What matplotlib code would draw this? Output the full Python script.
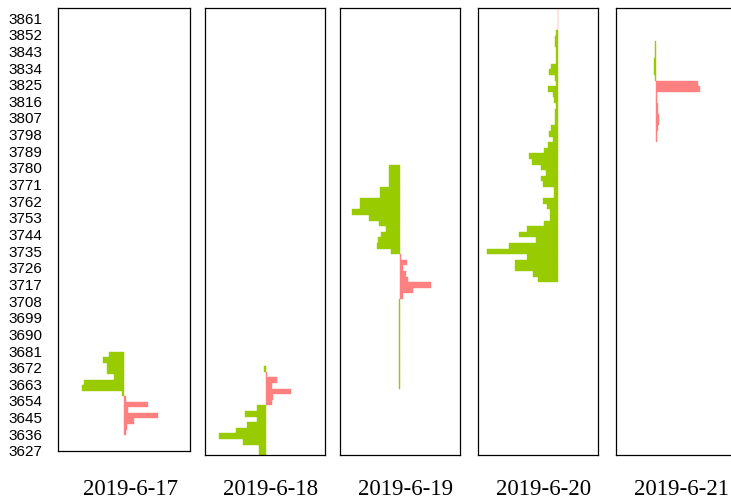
import matplotlib
matplotlib.use("Agg")
import matplotlib.pyplot as plt

# price levels (lower edge of each 3-point bin) and net volume per level
# negative -> green bar to the left, positive -> pink bar to the right
days = ["2019-6-17", "2019-6-18", "2019-6-19", "2019-6-20", "2019-6-21"]

price_17 = [3677, 3674, 3671, 3668, 3665, 3662, 3659, 3656, 3653, 3650,
            3647, 3644, 3641, 3638, 3635]
vol_17 = [-15, -21, -17, -17, -10, -40, -42, -2, 2.5, 24,
          4, 34, 10, 3, 2.5]

price_18 = [3671, 3668, 3665, 3662, 3659, 3656, 3653, 3650, 3647, 3644,
            3641, 3638, 3635, 3632, 3629, 3626]
vol_18 = [-1.7, 1, 11, 6, 25, 7.5, 6, -8.3, -20.7, -8.3,
          -18.3, -29.3, -46.7, -22.3, -6.7, -6.7]

price_19 = [3779, 3776, 3773, 3770, 3767, 3764, 3761, 3758, 3755, 3752,
            3749, 3746, 3743, 3740, 3737, 3734,
            3731, 3728, 3725, 3722, 3719, 3716, 3713, 3710,
            3707, 3704, 3701, 3698, 3695, 3692, 3689, 3686, 3683, 3680,
            3677, 3674, 3671, 3668, 3665, 3662]
vol_19 = [-10.7, -10.7, -10.7, -10.7, -20, -20, -40, -40, -48, -31,
          -21, -14, -19, -22, -23, -9,
          1, 6.7, 3.3, 5.7, 7.7, 30.7, 13.3, 3.3,
          -0.8, -0.8, -0.8, -0.8, -0.8, -0.8, -0.8, -0.8, -0.8, -0.8,
          -0.8, -0.8, -0.8, -0.8, -0.8, -0.8]

price_20 = [3863, 3860, 3857, 3854,
            3851, 3848, 3845, 3842, 3839, 3836, 3833, 3830, 3827, 3824,
            3821, 3818, 3815, 3812, 3809, 3806, 3803, 3800, 3797, 3794,
            3791, 3788, 3785, 3782, 3779, 3776, 3773, 3770, 3767, 3764,
            3761, 3758, 3755, 3752, 3749, 3746, 3743, 3740, 3737, 3734,
            3731, 3728, 3725, 3722, 3719]
vol_20 = [0.7, 0.7, 0.7, 0.7,
          -1.7, -2.7, -2.7, -1.7, -1.7, -1.7, -6.7, -8.7, -2.7, -1.7,
          -9.7, -4.7, -3.7, -1.7, -2.7, -2.7, -2.7, -6.7, -8.7, -4.7,
          -9.7, -13.7, -28.7, -25.7, -16.7, -11.7, -16.7, -14.7, -3.7, -3.7,
          -14.7, -10.7, -7.7, -7.7, -13.7, -30.7, -38.7, -21.7, -48.7, -70.7,
          -30.7, -42.7, -42.7, -24.7, -19.7]

price_21 = [3845, 3842, 3839, 3836, 3833, 3830, 3827, 3824, 3821, 3818,
            3815, 3812, 3809, 3806, 3803, 3800, 3797, 3794]
vol_21 = [-0.7, -0.7, -0.7, -2, -2, -2, -0.7, 42.5, 44.5, 1,
          1, 2, 2.7, 3.7, 3.7, 2.7, 1, 1]

price_ticks = [3627, 3636, 3645, 3654, 3663, 3672, 3681, 3690, 3699, 3708,
               3717, 3726, 3735, 3744, 3753, 3762, 3771, 3780, 3789, 3798,
               3807, 3816, 3825, 3834, 3843, 3852, 3861]

GREEN = "#99cc00"
PINK = "#ff8080"

W, H = 731, 502
fig = plt.figure(figsize=(W / 100, H / 100), dpi=100)

# panel frames in pixels: left, top, right, bottom, and x-limits
panels = [
    (58, 9, 190, 452, (-65.5, 66.5)),
    (205, 9, 325, 456, (-60.5, 59.5)),
    (340, 9, 460, 456, (-60, 60)),
    (477.7, 9, 597.7, 456, (-80, 40)),
    (615.5, 9, 735.5, 456, (-40, 80)),
]
prices = [price_17, price_18, price_19, price_20, price_21]
vols = [vol_17, vol_18, vol_19, vol_20, vol_21]

for i, (l, t, r, b, xl) in enumerate(panels):
    ax = fig.add_axes([l / W, (H - b) / H, (r - l) / W, (b - t) / H])
    cols = [GREEN if v < 0 else PINK for v in vols[i]]
    ax.barh(prices[i], vols[i], height=3, align="edge", color=cols,
            edgecolor=cols, linewidth=0.3)
    ax.set_xlim(*xl)
    ax.set_ylim(3626.4, 3865.9)
    ax.set_xticks([])
    for s in ax.spines.values():
        s.set_color("black")
        s.set_linewidth(0.9)
    if i == 0:
        ax.set_yticks(price_ticks)
        ax.set_yticklabels([str(p) for p in price_ticks],
                           fontfamily="Liberation Sans", fontsize=11)
        ax.tick_params(axis="y", length=0, pad=11.5)
    else:
        ax.set_yticks([])
    fig.text(((l + r) / 2 + 6) / W, 1 - 490 / H, days[i],
             ha="center", va="center", fontfamily="Liberation Serif",
             fontsize=16.5)

fig.savefig("out.png", dpi=100)
